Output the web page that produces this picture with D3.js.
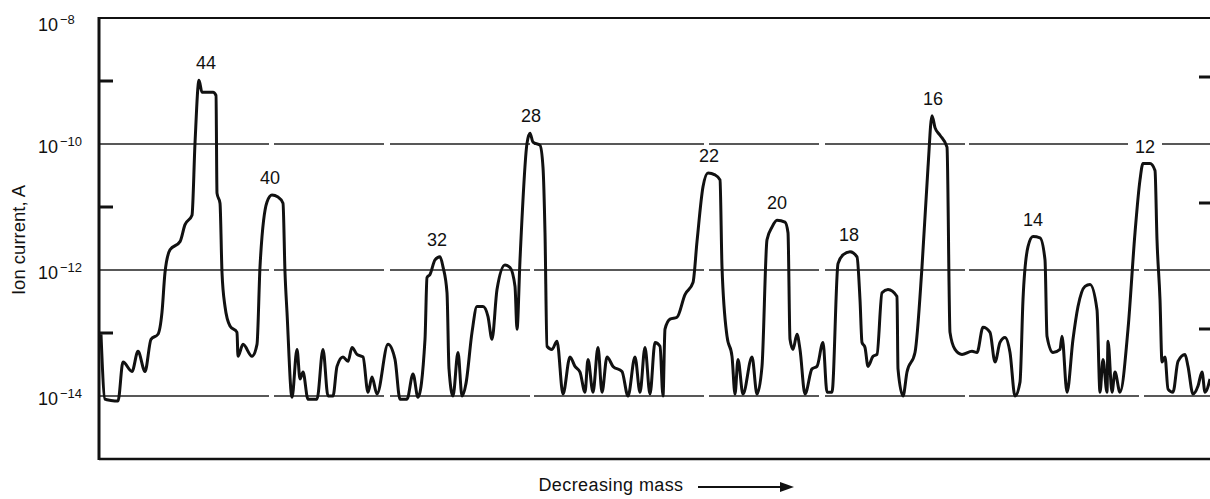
<!DOCTYPE html>
<html>
<head>
<meta charset="utf-8">
<script src="https://cdn.jsdelivr.net/npm/d3@7/dist/d3.min.js"></script>
<style>
  body { margin: 0; background: #fff; }
  text { font-family: "Liberation Sans", Arial, sans-serif; fill: #111; }
</style>
</head>
<body>
<div id="chart"></div>
<script>
// scan position (arbitrary units, mass decreasing to the right)
var scanPos = [
  2,6,12,19,24,33,39,46,52,59,
  63,66,71,81,86,93,96,100,103,114,
  117,118,121,123,126,131,138,139,144,153,
  158,161,168,173,179,184,186,188,193,198,
  201,204,209,218,224,229,234,238,244,249,
  253,258,264,269,273,278,289,296,301,308,
  314,319,326,328,331,336,341,344,348,350,
  354,359,363,367,373,378,384,389,393,398,
  406,411,416,418,421,428,431,434,441,444,
  446,448,453,458,464,471,476,481,486,489,
  494,499,503,508,514,523,529,536,541,546,
  551,556,561,564,566,571,578,586,594,598,
  604,609,616,621,623,628,633,636,639,644,
  653,658,663,668,673,678,686,689,691,694,
  698,701,706,713,718,724,728,733,739,744,
  751,758,761,763,766,769,774,778,783,789,
  798,799,804,808,816,823,829,833,836,841,
  848,851,856,863,873,878,884,891,896,901,
  906,911,916,921,924,929,934,941,946,948,
  954,961,963,968,974,979,986,991,998,1001,
  1004,1008,1009,1013,1016,1021,1029,1036,1041,1044,
  1051,1056,1058,1061,1063,1066,1069,1074,1079,1086,
  1089,1094,1099,1103,1106,1111
];

// log10 of ion current (A)
var logCurrent = [
  -13.02,-14.05,-14.07,-14.08,-13.46,-13.61,-13.29,-13.61,-13.10,-13.02,
  -12.67,-12.04,-11.68,-11.55,-11.28,-11.13,-9.99,-8.99,-9.18,-9.18,
  -9.23,-10.78,-10.94,-12.04,-12.58,-12.89,-12.99,-13.37,-13.18,-13.37,
  -13.18,-11.95,-10.92,-10.81,-10.84,-10.94,-12.04,-12.67,-14.02,-13.26,
  -13.73,-13.62,-14.05,-14.05,-13.26,-14.00,-14.00,-13.53,-13.38,-13.45,
  -13.23,-13.34,-13.38,-13.94,-13.70,-13.97,-13.18,-13.42,-14.05,-14.05,
  -13.65,-14.02,-13.10,-12.12,-12.07,-11.84,-11.79,-11.95,-12.36,-13.57,
  -14.00,-13.31,-14.00,-13.80,-12.99,-12.58,-12.58,-12.74,-13.10,-12.31,
  -11.92,-11.96,-12.26,-12.94,-11.84,-9.99,-9.83,-9.97,-10.02,-10.37,
  -11.41,-13.21,-13.26,-13.13,-13.97,-13.38,-13.53,-13.62,-13.94,-13.42,
  -13.94,-13.23,-13.94,-13.38,-13.53,-13.61,-14.00,-13.38,-13.94,-13.23,
  -13.97,-13.15,-13.21,-14.00,-12.94,-12.78,-12.75,-12.39,-12.20,-11.55,
  -10.68,-10.46,-10.49,-10.57,-11.95,-13.05,-13.37,-13.97,-13.42,-13.97,
  -13.38,-13.97,-13.53,-11.52,-11.32,-11.21,-11.24,-11.41,-13.10,-13.26,
  -13.02,-13.26,-13.97,-13.57,-13.53,-13.15,-13.94,-13.94,-11.90,-11.76,
  -11.71,-11.79,-12.47,-13.15,-13.23,-13.53,-13.37,-13.34,-12.36,-12.31,
  -12.42,-13.57,-14.00,-13.62,-13.31,-11.95,-10.37,-9.55,-9.74,-9.86,
  -10.05,-12.99,-13.26,-13.34,-13.29,-13.31,-12.91,-12.99,-13.46,-13.15,
  -13.07,-13.31,-14.00,-13.78,-12.47,-11.63,-11.47,-11.49,-11.84,-13.05,
  -13.31,-13.26,-13.05,-13.94,-13.10,-12.58,-12.26,-12.23,-12.63,-13.94,
  -13.42,-13.94,-13.13,-13.94,-13.62,-13.94,-12.94,-11.41,-10.57,-10.31,
  -10.31,-10.42,-11.52,-12.47,-13.46,-13.38,-13.89,-13.94,-13.45,-13.34,
  -13.53,-13.97,-13.84,-13.62,-13.94,-13.73
];

// mass number labels and where the peak sits on the scan
var peakMass = ['44','40','32','28','22','20','18','16','14','12'];
var peakPos  = [107, 171, 338, 432, 610, 678, 750, 834, 934, 1046];

var labelExp = [-8, -10, -12, -14];   // labelled decades (with grid lines, except top)
var tickExp  = [-9, -11, -13];        // short tick marks

var outerWidth = 1210;
var outerHeight = 499;
var margin = { left: 99, top: 18, right: 0, bottom: 40 };
var innerWidth  = outerWidth  - margin.left - margin.right;
var innerHeight = outerHeight - margin.top  - margin.bottom;

var svg = d3.select('#chart').append('svg')
    .attr('width', outerWidth)
    .attr('height', outerHeight);

var g = svg.append('g')
    .attr('transform', 'translate(' + margin.left + ',' + margin.top + ')');

var xScale = d3.scaleLinear().domain([0, 1111]).range([0, innerWidth]);
var yScale = d3.scaleLog().domain([1e-15, 1e-8]).range([innerHeight, 0]);

var data = [];
var n = Math.min(scanPos.length, logCurrent.length);
for (var i = 0; i < n; i++) {
    data.push({ pos: scanPos[i], current: Math.pow(10, logCurrent[i]) });
}

// grid lines at even decades (broken here and there, like the chart paper)
g.append('g').selectAll('line')
    .data(labelExp.slice(1))
    .enter()
    .append('line')
    .attr('x1', 0)
    .attr('x2', innerWidth)
    .attr('y1', function(d) { return yScale(Math.pow(10, d)); })
    .attr('y2', function(d) { return yScale(Math.pow(10, d)); })
    .attr('stroke', '#222')
    .attr('stroke-width', 1.6)
    .attr('stroke-dasharray', '170,5,110,6,140,4');

// frame: top, bottom, left
g.append('line').attr('x1', 0).attr('x2', innerWidth).attr('y1', 0).attr('y2', 0)
    .attr('stroke', '#111').attr('stroke-width', 2.2);
g.append('line').attr('x1', 0).attr('x2', innerWidth).attr('y1', innerHeight).attr('y2', innerHeight)
    .attr('stroke', '#111').attr('stroke-width', 2.4);
g.append('line').attr('x1', 0).attr('x2', 0).attr('y1', -1).attr('y2', innerHeight + 1)
    .attr('stroke', '#111').attr('stroke-width', 3);

// odd-decade ticks, left (inward) and right edge
var ticks = g.append('g');
ticks.selectAll('.lt')
    .data(tickExp)
    .enter()
    .append('line')
    .attr('class', 'lt')
    .attr('x1', 0).attr('x2', 14)
    .attr('y1', function(d) { return yScale(Math.pow(10, d)); })
    .attr('y2', function(d) { return yScale(Math.pow(10, d)); })
    .attr('stroke', '#111').attr('stroke-width', 3);
ticks.selectAll('.rt')
    .data(tickExp)
    .enter()
    .append('line')
    .attr('class', 'rt')
    .attr('x1', innerWidth - 11).attr('x2', innerWidth)
    .attr('y1', function(d) { return yScale(Math.pow(10, d)) - 4; })
    .attr('y2', function(d) { return yScale(Math.pow(10, d)) - 4; })
    .attr('stroke', '#111').attr('stroke-width', 3);

// y labels 10^-n
var yl = svg.append('g').selectAll('text')
    .data(labelExp)
    .enter()
    .append('text')
    .attr('x', 38)
    .attr('y', function(d, i) { return margin.top + yScale(Math.pow(10, d)) + (i === 0 ? 13 : 9); })
    .style('font-size', '18px');
yl.append('tspan').text('10');
yl.append('tspan')
    .attr('dx', 2)
    .attr('dy', -7)
    .style('font-size', '13px')
    .text(function(d) { return '\u2212' + Math.abs(d); });

// the trace
var line = d3.line()
    .x(function(d) { return xScale(d.pos); })
    .y(function(d) { return yScale(d.current); })
    .curve(d3.curveMonotoneX);

g.append('path')
    .attr('d', line(data))
    .attr('fill', 'none')
    .attr('stroke', '#111')
    .attr('stroke-width', 3)
    .attr('stroke-linejoin', 'round');

// peak labels, placed just above the highest point near each peak
var peaks = peakMass.map(function(m, i) {
    var top = 1e-20;
    data.forEach(function(d) {
        if (Math.abs(d.pos - peakPos[i]) <= 8 && d.current > top) top = d.current;
    });
    return { mass: m, pos: peakPos[i], top: top };
});

var pl = g.append('g').selectAll('g')
    .data(peaks)
    .enter()
    .append('g')
    .attr('transform', function(d) {
        return 'translate(' + xScale(d.pos) + ',' + (yScale(d.top) - 11) + ')';
    });
// '12' interrupts the grid line it sits on
pl.filter(function(d) { return d.mass === '12'; })
    .append('rect')
    .attr('x', -17).attr('y', -15).attr('width', 34).attr('height', 18)
    .attr('fill', '#fff');
pl.append('text')
    .attr('text-anchor', 'middle')
    .style('font-size', '18px')
    .text(function(d) { return d.mass; });

// axis titles
svg.append('text')
    .attr('transform', 'translate(25,' + 240 + ') rotate(-90)')
    .style('text-anchor', 'middle')
    .style('font-size', '18.5px')
    .text('Ion current, A');

svg.append('text')
    .attr('x', 611)
    .attr('y', 491)
    .style('text-anchor', 'middle')
    .style('font-size', '18px')
    .style('letter-spacing', '0.4px')
    .text('Decreasing mass');

// arrow after the x title
svg.append('line')
    .attr('x1', 698).attr('x2', 782)
    .attr('y1', 487).attr('y2', 487)
    .attr('stroke', '#111').attr('stroke-width', 2);
svg.append('path')
    .attr('d', 'M780,482 L794,487 L780,492 Z')
    .attr('fill', '#111');
</script>
</body>
</html>
